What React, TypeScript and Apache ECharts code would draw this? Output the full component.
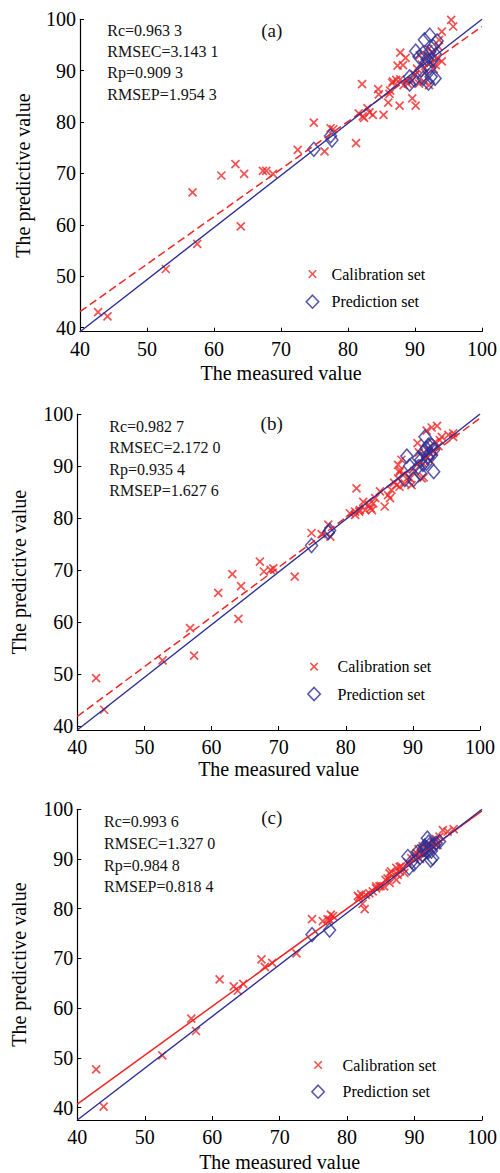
import { useEffect, useRef } from 'react';
import * as echarts from 'echarts';

const RED = '#f02424';
const BLUE = '#2c2e94';
const FONT = 'Liberation Serif';
const CROSS = 'path://M0,0M14,14M3,3L11,11M11,3L3,11';

const xTicks = [40, 50, 60, 70, 80, 90, 100];
const yTicks = [40, 50, 60, 70, 80, 90, 100];
const yMins = [39.2, 39.2, 37.5];
const panelLabels = ['(a)', '(b)', '(c)'];
const legendNames = ['Calibration set', 'Prediction set'];

const statsA = ['Rc=0.963 3', 'RMSEC=3.143 1', 'Rp=0.909 3', 'RMSEP=1.954 3'];
const statsB = ['Rc=0.982 7', 'RMSEC=2.172 0', 'Rp=0.935 4', 'RMSEP=1.627 6'];
const statsC = ['Rc=0.993 6', 'RMSEC=1.327 0', 'Rp=0.984 8', 'RMSEP=0.818 4'];

const calA = [
  [42.7, 43.0], [44.1, 42.2], [52.8, 51.4], [57.5, 56.3], [56.8, 66.3], [61.1, 69.6], [63.2, 71.8],
  [64.5, 69.9], [64.0, 59.7], [67.3, 70.5], [67.8, 70.5], [68.8, 69.9], [72.5, 74.6], [74.9, 79.9],
  [76.5, 74.3], [77.4, 78.8], [77.8, 78.6], [81.2, 75.9], [81.6, 81.7], [82.1, 87.4], [82.2, 81.1],
  [82.4, 80.8], [82.9, 82.7], [83.2, 81.9], [83.7, 81.4], [85.3, 81.4], [84.5, 86.4], [84.6, 85.4],
  [86.0, 83.8], [86.3, 86.1], [86.6, 87.6], [86.7, 87.9], [87.2, 88.2], [87.7, 83.2], [87.8, 88.3],
  [88.3, 87.2], [87.4, 91.0], [87.8, 93.5], [88.2, 91.1], [88.6, 92.5], [89.6, 84.6], [90.1, 83.2],
  [89.5, 88.0], [90.0, 89.2], [90.3, 90.4], [90.6, 87.5], [90.7, 93.0], [91.0, 91.2], [91.3, 87.9],
  [91.5, 89.6], [91.8, 92.8], [92.1, 87.2], [92.0, 94.2], [92.3, 91.5], [92.6, 93.6], [92.8, 90.3],
  [93.1, 91.1], [93.3, 92.5], [93.5, 94.7], [93.6, 96.0], [94.0, 91.8], [94.0, 97.6], [95.4, 99.9],
  [95.7, 98.6], [88.9, 87.5], [86.2, 85.5],
];
const predA = [
  [74.9, 74.7], [77.4, 77.3], [77.6, 76.5], [89.2, 88.8], [89.2, 87.4], [89.9, 88.2], [90.1, 93.8],
  [90.6, 92.7], [90.9, 90.1], [91.2, 93.4], [91.2, 88.5], [91.4, 96.0], [91.7, 91.1], [92.2, 96.9],
  [92.2, 93.7], [92.2, 90.5], [92.0, 87.6], [92.4, 88.8], [92.7, 94.7], [93.0, 88.5], [93.1, 93.1],
  [93.3, 95.8], [91.8, 92.2], [92.5, 92.0],
];
const fitCalA = [[40, 43.1], [100, 98.6]];
const fitPredA = [[40, 39.2], [100, 100]];

const calB = [
  [42.8, 49.2], [44.0, 43.1], [52.7, 52.6], [56.8, 58.8], [57.4, 53.5], [61.0, 65.6], [63.1, 69.2],
  [64.4, 66.9], [64.0, 60.6], [67.2, 71.6], [67.8, 69.7], [68.8, 70.0], [69.2, 70.3], [72.4, 68.7],
  [74.9, 77.1], [76.4, 76.9], [77.4, 78.7], [77.7, 76.4], [80.6, 80.9], [81.4, 80.6], [81.4, 81.2],
  [81.6, 85.7], [82.0, 81.2], [82.1, 81.5], [82.6, 83.1], [82.9, 81.5], [83.4, 82.5], [83.7, 81.9],
  [83.9, 81.5], [84.1, 82.8], [84.4, 83.8], [85.1, 85.1], [85.8, 82.2], [86.3, 84.4], [86.6, 83.8],
  [86.8, 85.4], [87.6, 86.3], [87.8, 87.6], [87.8, 90.2], [88.0, 86.0], [88.1, 89.2], [88.3, 91.2],
  [88.5, 88.3], [88.8, 86.6], [89.3, 87.8], [89.6, 87.6], [89.8, 86.3], [90.2, 89.0], [90.7, 94.4],
  [90.9, 92.6], [91.3, 87.6], [91.5, 90.5], [91.6, 87.8], [91.9, 92.0], [92.05, 96.8], [92.3, 93.5],
  [92.6, 91.0], [92.8, 97.4], [93.0, 92.7], [93.3, 94.6], [93.6, 97.7], [93.8, 93.8], [94.0, 95.0],
  [94.3, 95.6], [95.3, 96.0], [96.0, 95.6], [96.0, 96.3], [88.0, 88.8], [87.2, 86.8],
];
const predB = [
  [74.9, 74.7], [77.4, 77.2], [77.6, 77.6], [88.8, 87.4], [89.1, 91.9], [89.5, 90.0], [90.1, 87.4],
  [90.8, 89.8], [90.8, 91.5], [91.2, 91.2], [91.1, 88.6], [91.6, 92.7], [91.8, 95.6], [92.0, 90.5],
  [92.0, 93.4], [92.3, 94.0], [92.5, 92.4], [92.8, 92.1], [92.8, 94.0], [93.1, 93.1], [93.1, 88.9],
  [91.5, 90.3], [92.2, 91.6],
];
const fitCalB = [[40, 41.8], [100, 99.2]];
const fitPredB = [[40, 39.2], [100, 100]];

const calC = [
  [42.8, 47.7], [43.9, 40.2], [52.6, 50.5], [56.9, 57.9], [57.6, 55.4], [61.1, 65.8], [63.2, 64.4],
  [63.8, 63.5], [64.6, 64.9], [67.3, 69.8], [67.8, 68.3], [68.9, 69.1], [72.5, 71.0], [74.8, 77.9],
  [76.4, 77.5], [77.1, 77.9], [77.4, 77.8], [77.6, 78.8], [77.9, 78.5], [81.6, 82.6], [81.8, 82.3],
  [82.1, 82.9], [82.3, 81.0], [82.6, 79.9], [82.8, 82.8], [83.3, 83.1], [83.8, 83.5], [84.3, 84.1],
  [84.3, 84.5], [84.8, 84.5], [85.0, 84.6], [85.5, 84.5], [85.7, 85.8], [86.0, 86.1], [86.3, 85.2],
  [86.3, 87.1], [86.5, 87.5], [87.3, 85.8], [87.3, 88.2], [87.5, 86.8], [87.8, 87.5], [87.8, 88.4],
  [88.0, 88.5], [88.5, 87.2], [89.0, 89.3], [89.5, 90.2], [90.0, 90.8], [90.3, 91.2], [90.6, 92.0],
  [91.0, 91.3], [91.2, 92.6], [91.5, 91.0], [91.8, 92.4], [92.0, 93.2], [92.3, 91.8], [92.6, 92.6],
  [92.9, 93.6], [93.2, 94.0], [93.7, 94.5], [94.2, 95.8], [94.9, 95.5], [95.8, 96.0], [93.4, 92.8],
  [90.8, 90.0],
];
const predC = [
  [74.8, 74.8], [77.4, 75.7], [89.0, 90.5], [89.2, 88.2], [89.6, 89.5], [89.9, 89.0], [90.5, 91.5],
  [90.8, 90.3], [91.2, 90.8], [91.5, 92.6], [91.7, 92.2], [91.9, 94.2], [92.0, 91.4], [92.2, 92.8],
  [92.4, 89.8], [92.5, 91.6], [92.7, 90.2], [92.9, 92.8], [93.2, 93.2], [93.7, 93.5], [91.3, 91.9],
  [92.1, 93.4],
];
const fitCalC = [[40, 40.7], [100, 99.7]];
const fitPredC = [[40, 37.5], [100, 100]];

const panels = [
  {
    cal: calA, pred: predA, fitCal: fitCalA, fitPred: fitPredA, stats: statsA, dashed: true,
    grid: { left: 80, top: 19.3, width: 403, height: 312.4 },
    xGap: 31, yGap: 46.7, statsX: 107.3, statsY: [30, 51.7, 72.7, 94.3], labelXY: [271.7, 30.7],
    legend: { cx: 311.7, cy: 274, gapText: 19, spacing: 27.7 },
  },
  {
    cal: calB, pred: predB, fitCal: fitCalB, fitPred: fitPredB, stats: statsB, dashed: true,
    grid: { left: 77.3, top: 414, width: 402.7, height: 316 },
    xGap: 29.3, yGap: 48, statsX: 109.3, statsY: [426, 447.3, 469.3, 490], labelXY: [271.7, 423.3],
    legend: { cx: 313.3, cy: 666.7, gapText: 23.4, spacing: 27.3 },
  },
  {
    cal: calC, pred: predC, fitCal: fitCalC, fitPred: fitPredC, stats: statsC, dashed: false,
    grid: { left: 77.3, top: 809.3, width: 405.4, height: 311.4 },
    xGap: 32, yGap: 48, statsX: 104, statsY: [821.7, 843.3, 865, 886.7], labelXY: [271.7, 817.3],
    legend: { cx: 317.3, cy: 1065, gapText: 24.4, spacing: 26.7 },
  },
];

function crossIcon(w: number) {
  const c = w / 2;
  return `path://M0,0M${w},13M${c - 3.7},2.8L${c + 3.7},10.2M${c + 3.7},2.8L${c - 3.7},10.2`;
}
function diamondIcon(w: number) {
  const c = w / 2;
  return `path://M0,0M${w},13M${c},0L${c + 6.2},6.5L${c},13L${c - 6.2},6.5Z`;
}

function buildOption() {
  const grids: any[] = [];
  const xAxes: any[] = [];
  const yAxes: any[] = [];
  const series: any[] = [];
  const legends: any[] = [];
  const graphics: any[] = [];

  panels.forEach((p, i) => {
    grids.push({ ...p.grid, containLabel: false });
    xAxes.push({
      type: 'value', gridIndex: i, min: 40, max: 100, interval: 10,
      name: 'The measured value', nameLocation: 'middle', nameGap: p.xGap,
      nameTextStyle: { fontFamily: FONT, fontSize: 20, color: '#000' },
      axisLine: { show: true, onZero: false, lineStyle: { color: '#000', width: 1.2 } },
      axisTick: { show: true, inside: true, length: 4, customValues: xTicks, lineStyle: { color: '#000' } },
      axisLabel: { fontFamily: FONT, fontSize: 20, color: '#000', margin: 7 },
      splitLine: { show: false },
    });
    yAxes.push({
      type: 'value', gridIndex: i, min: yMins[i], max: 100,
      name: 'The predictive value', nameLocation: 'middle', nameGap: p.yGap, nameRotate: 90,
      nameTextStyle: { fontFamily: FONT, fontSize: 20, color: '#000' },
      axisLine: { show: true, onZero: false, lineStyle: { color: '#000', width: 1.2 } },
      axisTick: { show: true, inside: true, length: 4, customValues: yTicks, lineStyle: { color: '#000' } },
      axisLabel: { fontFamily: FONT, fontSize: 20, color: '#000', margin: 4, customValues: yTicks },
      splitLine: { show: false },
    });
    series.push({
      type: 'line', xAxisIndex: i, yAxisIndex: i, data: p.fitCal, symbol: 'none', silent: true,
      lineStyle: { color: RED, width: 1.5, type: p.dashed ? [8, 4] : 'solid' },
    });
    series.push({
      type: 'line', xAxisIndex: i, yAxisIndex: i, data: p.fitPred, symbol: 'none', silent: true,
      lineStyle: { color: BLUE, width: 1.4 },
    });
    series.push({
      type: 'scatter', name: legendNames[0], xAxisIndex: i, yAxisIndex: i, data: p.cal,
      symbol: CROSS, symbolSize: 14,
      itemStyle: { color: 'transparent', borderColor: RED, borderWidth: 1.7 },
    });
    series.push({
      type: 'scatter', name: legendNames[1], xAxisIndex: i, yAxisIndex: i, data: p.pred,
      symbol: 'diamond', symbolSize: [12, 14],
      itemStyle: { color: 'transparent', borderColor: BLUE, borderWidth: 1.5 },
    });
    const w = (p.legend.gapText - 5) * 2;
    legends.push({
      orient: 'vertical', left: p.legend.cx - w / 2, top: p.legend.cy - 8, padding: 0,
      itemWidth: w, itemHeight: 13, itemGap: p.legend.spacing - 16, selectedMode: false,
      itemStyle: { borderWidth: 1.6 },
      textStyle: { fontFamily: FONT, fontSize: 16, color: '#000' },
      data: [
        { name: legendNames[0], icon: crossIcon(w) },
        { name: legendNames[1], icon: diamondIcon(w) },
      ],
    });
    p.stats.forEach((s, k) => {
      graphics.push({
        type: 'text', x: p.statsX, y: p.statsY[k], silent: true,
        style: { text: s, fontFamily: FONT, fontSize: 16, fill: '#111', verticalAlign: 'middle', align: 'left' },
      });
    });
    graphics.push({
      type: 'text', x: p.labelXY[0], y: p.labelXY[1], silent: true,
      style: { text: panelLabels[i], fontFamily: FONT, fontSize: 19, fill: '#111', verticalAlign: 'middle', align: 'center' },
    });
  });

  return {
    animation: false,
    backgroundColor: '#fff',
    grid: grids,
    xAxis: xAxes,
    yAxis: yAxes,
    legend: legends,
    series,
    graphic: graphics,
  };
}

export default function App() {
  const ref = useRef<HTMLDivElement>(null);
  useEffect(() => {
    if (!ref.current) return;
    const chart = echarts.init(ref.current, null, { renderer: 'svg' });
    chart.setOption(buildOption());
    return () => chart.dispose();
  }, []);
  return (
    <div
      ref={ref}
      style={{ position: 'absolute', left: 0, top: 0, width: 500, height: 1173, background: '#fff' }}
    />
  );
}
